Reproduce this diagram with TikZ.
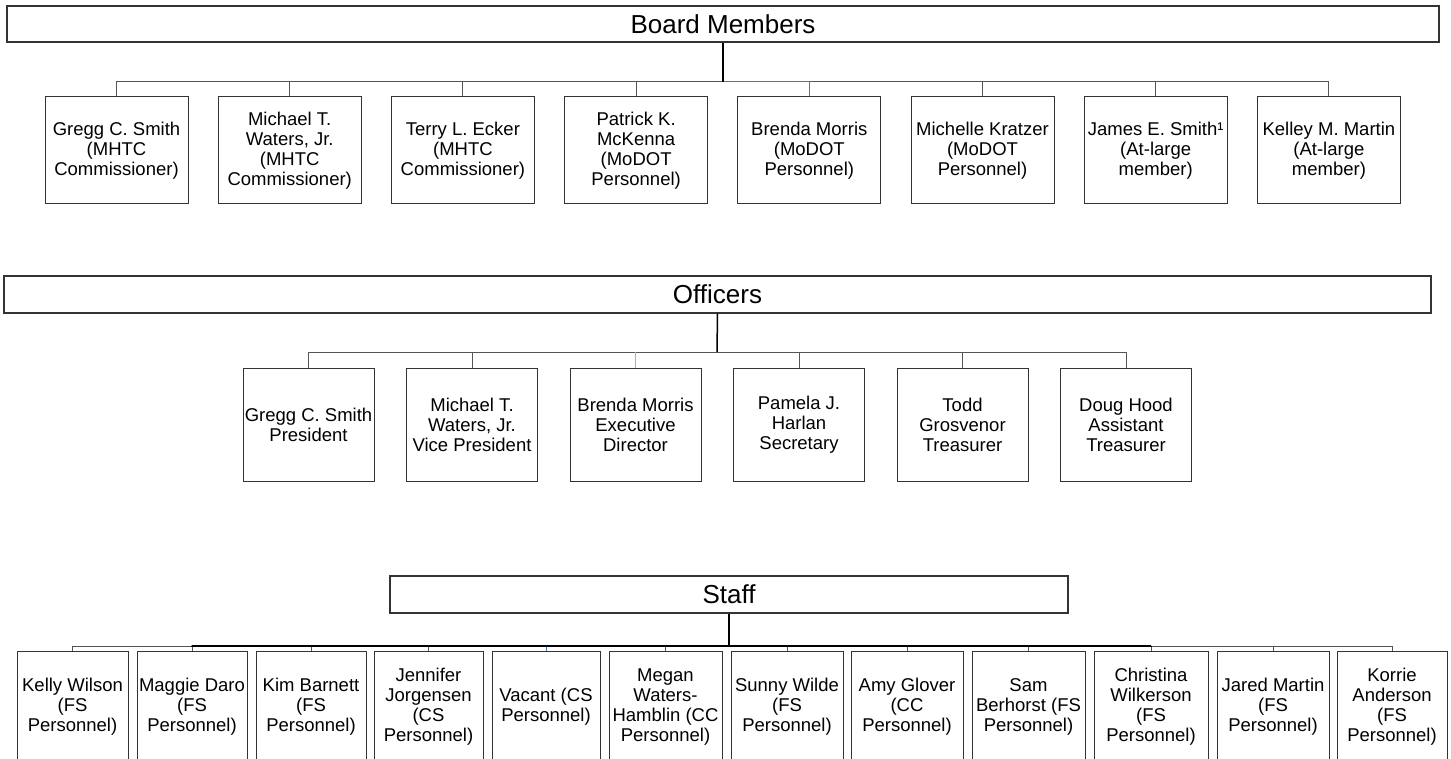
\documentclass[tikz,border=0pt]{standalone}
\usepackage{fontspec}
\usetikzlibrary{calc}
\setmainfont{Liberation Sans}
\definecolor{boxline}{HTML}{333333}
\definecolor{conn}{HTML}{555555}
\definecolor{blueconn}{HTML}{4A78B0}
\definecolor{lightblueconn}{HTML}{8FB4E0}
\tikzset{
  header/.style={draw=boxline, line width=1.1pt, rectangle, inner sep=0pt, anchor=center,
    font=\fontsize{26}{30}\selectfont},
  person/.style={draw=boxline, line width=1pt, rectangle, inner sep=0pt, anchor=center, align=center,
    font=\fontsize{18.5}{20}\selectfont},
  stem/.style={black, line width=1.5pt},
  link/.style={conn, line width=1pt},
}
\begin{document}
\begin{tikzpicture}[x=1pt,y=-1pt]
\useasboundingbox (0,0) rectangle (1451,759);
\clip (0,0) rectangle (1451,759);
\fill[white] (0,0) rectangle (1451,759);

% ---------- Board Members ----------
\node[header, minimum width=1432, minimum height=36] (board) at (723,24) {Board Members};
\coordinate (bj) at (723,82);
\foreach \i/\t in {1/{Gregg C. Smith\\(MHTC\\Commissioner)},
                   2/{Michael T.\\Waters, Jr.\\(MHTC\\Commissioner)},
                   3/{Terry L. Ecker\\(MHTC\\Commissioner)},
                   4/{Patrick K.\\McKenna\\(MoDOT\\Personnel)},
                   5/{Brenda Morris\\(MoDOT\\Personnel)},
                   6/{Michelle Kratzer\\(MoDOT\\Personnel)},
                   7/{James E. Smith¹\\(At-large\\member)},
                   8/{Kelley M. Martin\\(At-large\\member)}}{
  \node[person, minimum width=143, minimum height=107] (b\i) at ({116.5+173.2*(\i-1)},150.5) {\t};
}
\foreach \i in {1,2,3,4,6,7,8}{\draw[link] (bj) -| (b\i.north);}
\draw[blueconn, line width=1pt] (bj) -| (b5.north);
\draw[stem] (board.south) -- (bj);

% ---------- Officers ----------
\node[header, minimum width=1427, minimum height=37] (officers) at (717.5,294.5) {Officers};
\coordinate (oj) at (717,352);
\foreach \i/\t in {1/{Gregg C. Smith\\President},
                   2/{Michael T.\\Waters, Jr.\\Vice President},
                   3/{Brenda Morris\\Executive\\Director},
                   4/{Pamela J.\\Harlan\\Secretary},
                   5/{Todd\\Grosvenor\\Treasurer},
                   6/{Doug Hood\\Assistant\\Treasurer}}{
  \node[person, minimum width=131, minimum height=113] (o\i) at ({308.5+163.5*(\i-1)},424.5) {\t};
}
\foreach \i in {1,2,4,5,6}{\draw[link] (oj) -| (o\i.north);}
\coordinate (o3up) at ($(o3.north)+(0,-16)$);
\draw[link] (oj) -| (o3up);
\draw[lightblueconn, line width=1pt] (o3up) -- (o3.north);
\draw[stem] (officers.south) -- (oj);

% ---------- Staff ----------
\node[header, minimum width=678, minimum height=37] (staff) at (729,594.5) {Staff};
\coordinate (sj) at (729,646);
\foreach \i/\x/\w/\t in {1/72.5/111/{Kelly Wilson\\(FS\\Personnel)},
                   2/192/110/{Maggie Daro\\(FS\\Personnel)},
                   3/311/110/{Kim Barnett\\(FS\\Personnel)},
                   4/428.5/109/{Jennifer\\Jorgensen\\(CS\\Personnel)},
                   5/546/108/{Vacant (CS\\Personnel)},
                   6/665.5/113/{Megan\\Waters-\\Hamblin (CC\\Personnel)},
                   7/787/112/{Sunny Wilde\\(FS\\Personnel)},
                   8/907/112/{Amy Glover\\(CC\\Personnel)},
                   9/1028.5/113/{Sam\\Berhorst (FS\\Personnel)},
                   10/1151/114/{Christina\\Wilkerson\\(FS\\Personnel)},
                   11/1273/112/{Jared Martin\\(FS\\Personnel)},
                   12/1392/110/{Korrie\\Anderson\\(FS\\Personnel)}}{
  \node[person, minimum width=\w, minimum height=112] (s\i) at (\x,707) {\t};
}
\foreach \i in {1,2,3,4,6,7,8,9,10,11,12}{\draw[link] (sj) -| (s\i.north);}
\coordinate (s5up) at ($(s5.north)+(0,-5)$);
\draw[link] (sj) -| (s5up);
\draw[blueconn, line width=1pt] (s5up) -- (s5.north);
\draw[stem] (staff.south) -- (sj);
\draw[black, line width=1.5pt] (sj) -| ($(s2.north)+(0,-5)$);
\draw[black, line width=1.5pt] (sj) -| ($(s10.north)+(0,-5)$);
\end{tikzpicture}
\end{document}
